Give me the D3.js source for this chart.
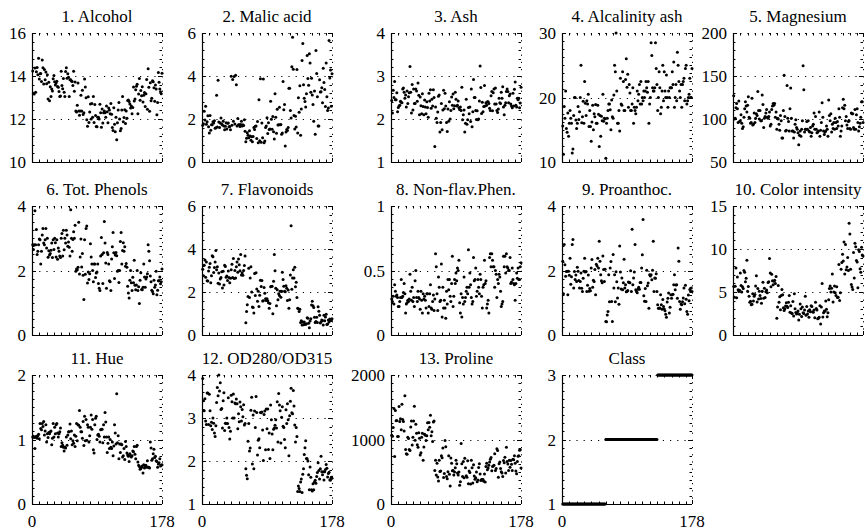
<!DOCTYPE html>
<html><head><meta charset="utf-8">
<script src="https://cdn.jsdelivr.net/npm/d3@7/dist/d3.min.js"></script>
</head><body style="margin:0;background:#fff">
<svg id="chart" width="865" height="531" style="display:block"></svg>
<script>
const alcohol = [14.23,13.2,13.16,14.37,13.24,14.2,14.39,14.06,14.83,13.86,14.1,14.12,13.75,14.75,14.38,13.63,14.3,13.83,14.19,13.64,14.06,12.93,13.71,12.85,13.5,13.05,13.39,13.3,13.87,14.02,13.73,13.58,13.68,13.76,13.51,13.48,13.28,13.05,13.07,14.22,13.56,13.41,13.88,13.24,13.05,14.21,14.38,13.9,14.1,13.94,13.05,13.83,13.82,13.77,13.74,13.56,14.22,13.29,13.72,
12.37,12.33,12.64,13.67,12.37,12.17,12.37,13.11,12.37,13.34,12.21,12.29,13.86,13.49,12.99,11.96,11.66,13.03,11.84,12.33,12.7,12,12.72,12.08,13.05,11.84,12.67,12.16,11.65,11.64,12.08,12.08,12,12.69,12.29,11.62,12.47,11.81,12.29,12.37,12.29,12.08,12.6,12.34,11.82,12.51,12.42,12.25,12.72,12.22,11.61,11.46,12.52,11.76,11.41,12.08,11.03,11.82,12.42,12.77,12,11.45,11.56,12.42,13.05,11.87,12.07,12.43,11.79,12.37,12.04,
12.86,12.88,12.81,12.7,12.51,12.6,12.25,12.53,13.49,12.84,12.93,13.36,13.52,13.62,12.25,13.16,13.88,12.87,13.32,13.08,13.5,12.79,13.11,13.23,12.58,13.17,13.84,12.45,14.34,13.48,12.36,13.69,12.85,12.96,13.78,13.73,13.45,12.82,13.58,13.4,12.2,12.77,14.16,13.71,13.4,13.27,13.17,14.13];
const malicAcid = [1.71,1.78,2.36,1.95,2.59,1.76,1.87,2.15,1.64,1.35,2.16,1.48,1.73,1.73,1.87,1.81,1.92,1.57,1.59,3.1,1.63,3.8,1.86,1.6,1.81,2.05,1.77,1.72,1.9,1.68,1.5,1.66,1.83,1.53,1.8,1.81,1.64,1.65,1.5,3.99,1.71,3.84,1.89,3.98,1.77,4.04,3.59,1.68,2.02,1.73,1.73,1.65,1.75,1.9,1.67,1.73,1.7,1.97,1.43,
0.94,1.1,1.36,1.25,1.13,1.45,1.21,1.01,1.17,0.94,1.19,1.61,1.51,1.66,1.67,1.09,1.88,0.9,2.89,0.99,3.87,0.92,1.81,1.13,3.86,0.89,0.98,1.61,1.67,2.06,1.33,1.83,1.51,1.53,2.83,1.99,1.52,2.12,1.41,1.07,3.17,2.08,1.34,2.45,1.72,1.73,2.55,1.73,1.75,1.29,1.35,3.74,2.43,2.68,0.74,1.39,1.51,1.47,1.61,3.43,3.43,2.4,2.05,4.43,5.8,4.31,2.16,1.53,2.13,1.63,4.3,
1.35,2.99,2.31,3.55,1.24,2.46,4.72,5.51,3.59,2.96,2.81,2.56,3.17,4.95,3.88,3.57,5.04,4.61,3.24,3.9,3.12,2.67,1.9,3.3,1.29,5.19,4.12,3.03,1.68,1.67,3.83,3.26,3.27,3.45,2.76,4.36,3.7,3.37,2.58,4.6,3.03,2.39,2.51,5.65,3.91,4.28,2.59,4.1];
const ash = [2.43,2.14,2.67,2.5,2.87,2.45,2.45,2.61,2.17,2.27,2.3,2.32,2.41,2.39,2.38,2.7,2.72,2.62,2.48,2.56,2.28,2.65,2.36,2.52,2.61,3.22,2.62,2.14,2.8,2.21,2.7,2.36,2.36,2.7,2.65,2.41,2.84,2.55,2.1,2.51,2.31,2.12,2.59,2.29,2.1,2.44,2.28,2.12,2.4,2.27,2.04,2.6,2.42,2.68,2.25,2.46,2.3,2.68,2.5,
1.36,2.28,2.02,1.92,2.16,2.53,2.56,1.7,1.92,2.36,1.75,2.21,2.67,2.24,2.6,2.3,1.92,1.71,2.23,1.95,2.4,2,2.2,2.51,2.32,2.58,2.24,2.31,2.62,2.46,2.3,2.32,2.42,2.26,2.22,2.28,2.2,2.74,1.98,2.1,2.21,1.7,1.9,2.46,1.88,1.98,2.27,2.12,2.28,1.94,2.7,1.82,2.17,2.92,2.5,2.5,2.2,1.99,2.19,1.98,2,2.42,3.23,2.73,2.13,2.39,2.17,2.29,2.78,2.3,2.38,
2.32,2.4,2.4,2.36,2.25,2.2,2.54,2.64,2.19,2.61,2.7,2.35,2.72,2.35,2.2,2.15,2.23,2.48,2.38,2.36,2.62,2.48,2.75,2.28,2.1,2.32,2.38,2.64,2.7,2.64,2.38,2.54,2.58,2.35,2.3,2.26,2.6,2.3,2.69,2.86,2.32,2.28,2.48,2.45,2.48,2.26,2.37,2.74];
const alcalinityAsh = [15.6,11.2,18.6,16.8,21,15.2,14.6,17.6,14,16,18,16.8,16,11.4,12,17.2,20,20,16.5,15.2,16,18.6,16.6,17.8,20,25,16.1,17,19.4,16,22.5,19.1,17.2,19.5,19,20.5,15.5,18,15.5,13.2,16.2,18.8,15,17.5,17,18.9,16,16,18.8,17.4,12.4,17.2,14,17.1,16.4,20.5,16.3,16.8,16.7,
10.6,16,16.8,18,19,19,18.1,15,19.6,17,16.8,20.4,25,24,30,21,16,16,18,14.8,23,19,18.8,24,22.5,18,18,22.8,26,21.6,23.6,18.5,22,20.7,18,18,19,21.5,16,18.5,18,17.5,18.5,21,19.5,20.5,22,19,22.5,19,20,19.5,21,20,21,22.5,21.5,20.8,22.5,16,19,20,28.5,26.5,21.5,21,21,21.5,28.5,24.5,22,
18,20,24,21.5,17.5,18.5,21,25,19.5,24,21,20,23.5,20,18.5,21,20,21.5,21.5,21.5,24,22,25.5,18.5,20,22,19.5,27,25,22.5,21,20,22,18.5,22,22.5,23,19.5,24.5,25,19,19.5,20,20.5,23,20,20,24.5];
const magnesium = [127,100,101,113,118,112,96,121,97,98,105,95,89,91,102,112,120,115,108,116,126,102,101,95,96,124,93,94,107,96,101,106,104,132,110,100,110,98,98,128,117,90,101,103,107,111,102,101,103,108,92,94,111,115,118,116,118,102,108,
88,101,100,94,87,104,98,78,78,110,151,103,86,87,139,101,97,86,112,136,101,86,86,78,85,94,99,90,88,84,70,81,86,80,88,98,162,134,85,88,88,97,88,98,86,85,90,80,84,92,94,107,88,103,88,84,85,86,108,80,87,96,119,102,86,82,85,86,92,88,80,
122,104,98,106,85,94,89,96,88,101,96,89,97,92,112,102,80,86,92,113,123,112,116,98,103,93,89,97,98,89,88,107,106,106,90,88,111,88,105,112,96,86,91,95,102,120,120,96];
const totalPhenols = [2.8,2.65,2.8,3.85,2.8,3.27,2.5,2.6,2.8,2.98,2.95,2.2,2.6,3.1,3.3,2.85,2.8,2.95,3.3,2.7,3,2.41,2.61,2.48,2.53,2.63,2.85,2.4,2.95,2.65,3,2.86,2.42,2.95,2.35,2.7,2.6,2.45,2.4,3,3.15,2.45,3.25,2.64,3,2.85,3.25,3.1,2.75,2.88,2.72,2.45,3.88,3,2.6,2.96,3.2,3,3.4,
1.98,2.05,2.02,2.1,3.5,1.89,2.42,2.98,2.11,2.53,1.85,1.1,2.95,1.88,3.3,3.38,1.61,1.95,1.72,1.9,2.83,2.42,2.2,2,1.65,2.2,2.2,1.78,1.92,1.95,2.2,1.6,1.45,1.38,2.45,3.02,2.5,1.6,2.55,3.52,2.85,2.23,1.45,2.56,2.5,2.2,1.68,1.65,1.38,2.36,2.74,3.18,2.55,1.75,2.48,2.56,2.46,1.98,2,1.63,2,2.9,3.18,2.2,2.62,2.86,2.6,2.74,2.13,2.22,2.1,
1.51,1.3,1.15,1.7,2,1.62,1.38,1.79,1.62,2.32,1.54,1.4,1.55,2,1.38,1.5,0.98,1.7,1.93,1.41,1.4,1.48,2.2,1.8,1.48,1.74,1.8,1.9,2.8,2.6,2.3,1.83,1.65,1.39,1.35,1.28,1.7,1.48,1.55,1.98,1.25,1.39,1.68,1.68,1.8,1.59,1.65,2.05];
const flavonoids = [3.06,2.76,3.24,3.49,2.69,3.39,2.52,2.51,2.98,3.15,3.32,2.43,2.76,3.69,3.64,2.91,3.14,3.4,3.93,3.03,3.17,2.41,2.88,2.37,2.61,2.68,2.94,2.19,2.97,2.33,3.25,3.19,2.69,2.74,2.53,2.98,2.68,2.43,2.64,3.04,3.29,2.68,3.56,2.63,3,2.65,3.17,3.39,2.92,3.54,3.27,2.99,3.74,2.79,2.9,2.78,3,3.23,3.67,
0.57,1.09,1.41,1.79,3.1,1.75,2.65,3.18,2,1.3,1.28,1.02,2.86,1.84,2.89,2.14,1.57,2.03,1.32,1.85,2.55,2.26,2.53,1.58,1.59,2.21,1.94,1.69,1.61,1.69,1.59,1.5,1.25,1.46,2.25,2.26,2.27,0.99,2.5,3.75,2.99,2.17,1.36,2.11,1.64,1.92,1.84,2.03,1.76,2.04,2.92,2.58,2.27,2.03,2.01,2.29,2.17,1.6,2.09,1.25,1.64,2.79,5.08,2.13,2.65,3.03,2.65,3.15,2.24,2.45,1.75,
1.25,1.22,1.09,1.2,0.58,0.66,0.47,0.6,0.48,0.6,0.5,0.5,0.52,0.8,0.78,0.55,0.34,0.65,0.76,1.39,1.57,1.36,1.28,0.83,0.58,0.63,0.83,0.58,1.31,1.1,0.92,0.56,0.6,0.7,0.68,0.47,0.92,0.66,0.84,0.96,0.49,0.51,0.7,0.61,0.75,0.69,0.68,0.76];
const nonflavPhenols = [0.28,0.26,0.3,0.24,0.39,0.34,0.3,0.31,0.29,0.22,0.22,0.26,0.29,0.43,0.29,0.3,0.33,0.4,0.32,0.17,0.24,0.25,0.27,0.26,0.28,0.47,0.34,0.27,0.37,0.26,0.29,0.22,0.42,0.5,0.29,0.26,0.34,0.29,0.28,0.2,0.34,0.27,0.17,0.32,0.28,0.3,0.27,0.21,0.32,0.32,0.17,0.22,0.32,0.39,0.21,0.2,0.26,0.31,0.19,
0.28,0.63,0.53,0.32,0.19,0.45,0.37,0.26,0.27,0.55,0.14,0.37,0.21,0.27,0.21,0.13,0.34,0.24,0.43,0.35,0.43,0.3,0.26,0.4,0.61,0.22,0.3,0.43,0.4,0.48,0.42,0.52,0.5,0.58,0.25,0.17,0.32,0.14,0.29,0.24,0.45,0.26,0.29,0.34,0.37,0.32,0.66,0.37,0.48,0.39,0.29,0.24,0.26,0.6,0.42,0.43,0.52,0.3,0.34,0.43,0.37,0.32,0.47,0.43,0.3,0.21,0.37,0.39,0.58,0.4,0.42,
0.21,0.24,0.27,0.17,0.6,0.63,0.53,0.63,0.58,0.53,0.53,0.37,0.5,0.47,0.29,0.43,0.4,0.47,0.45,0.34,0.22,0.24,0.26,0.61,0.53,0.61,0.48,0.63,0.53,0.52,0.5,0.5,0.6,0.4,0.41,0.52,0.43,0.4,0.39,0.27,0.4,0.48,0.44,0.52,0.43,0.43,0.53,0.56];
const proanthocyanins = [2.29,1.28,2.81,2.18,1.82,1.97,1.98,1.25,1.98,1.85,2.38,1.57,1.81,2.81,2.96,1.46,1.97,1.72,1.86,1.66,2.1,1.98,1.69,1.46,1.66,1.92,1.45,1.35,1.76,1.98,2.38,1.95,1.97,1.35,1.54,1.86,1.36,1.44,1.37,2.08,2.34,1.48,1.7,1.66,2.03,1.25,2.19,2.14,2.38,2.08,2.91,2.29,1.87,1.68,1.62,2.45,2.03,1.66,2.04,
0.42,0.41,0.62,0.73,1.87,1.03,2.08,2.28,1.04,0.42,2.5,1.46,1.87,1.03,1.96,1.65,1.15,1.46,0.95,2.76,1.95,1.43,1.77,1.4,1.62,2.35,1.46,1.56,1.34,1.35,1.38,1.64,1.63,1.62,1.99,1.35,3.28,1.56,1.77,1.95,2.81,1.4,1.35,1.31,1.42,1.48,1.42,1.63,1.63,2.08,2.49,3.58,1.22,1.05,1.44,1.04,2.01,1.53,1.61,0.83,1.87,1.83,1.87,1.71,2.01,2.91,1.35,1.77,1.76,1.9,1.35,
0.94,0.83,0.83,0.84,1.25,0.94,0.8,1.1,0.88,0.81,0.75,0.64,0.55,1.02,1.14,1.3,0.68,0.86,1.25,1.14,1.25,1.26,1.56,1.87,1.4,1.55,1.56,1.14,2.7,2.29,1.04,0.8,0.96,0.94,1.03,1.15,1.46,0.97,1.54,1.11,0.73,0.64,1.24,1.06,1.41,1.35,1.46,1.35];
const colorIntensity = [5.64,4.38,5.68,7.8,4.32,6.75,5.25,5.05,5.2,7.22,5.75,5,5.6,5.4,7.5,7.3,6.2,6.6,8.7,5.1,5.65,4.5,3.8,3.93,3.52,3.58,4.8,3.95,4.5,4.7,5.7,6.9,3.84,5.4,4.2,5.1,4.6,4.25,3.7,5.1,6.13,4.28,5.43,4.36,5.04,5.24,4.9,6.1,6.2,8.9,7.2,5.6,7.05,6.3,5.85,6.25,6.38,6,6.8,
1.95,3.27,5.75,3.8,4.45,2.95,4.6,5.3,4.68,3.17,2.85,3.05,3.38,3.74,3.35,3.21,3.8,4.6,2.65,3.4,2.57,2.5,3.9,2.2,4.8,3.05,2.62,2.45,2.6,2.8,1.74,2.4,3.6,3.05,2.15,3.25,2.6,2.5,2.9,4.5,2.3,3.3,2.45,2.8,2.06,2.94,2.7,3.4,3.3,2.7,2.65,2.9,2,3.8,3.08,2.9,1.9,1.95,2.06,3.4,1.28,3.25,6,2.08,2.6,2.8,2.76,3.94,3,2.12,2.6,
4.1,5.4,5.7,5,5.45,7.1,3.85,5,5.7,4.92,4.6,5.6,4.35,4.4,8.21,4,4.9,7.65,8.42,9.4,8.6,10.8,7.1,10.52,7.6,7.9,9.01,7.5,13,11.75,7.65,5.88,5.58,5.28,9.58,6.62,10.68,10.26,8.66,8.5,5.5,9.9,9.7,7.7,7.3,10.2,9.3,9.2];
const hue = [1.04,1.05,1.03,0.86,1.04,1.05,1.02,1.06,1.08,1.01,1.25,1.17,1.15,1.25,1.2,1.28,1.07,1.13,1.23,0.96,1.09,1.03,1.11,1.09,1.12,1.13,0.92,1.02,1.25,1.04,1.19,1.09,1.23,1.25,1.1,1.04,1.09,1.12,1.18,0.89,0.95,0.91,0.88,0.82,0.88,0.87,1.04,0.91,1.07,1.12,1.12,1.24,1.01,1.13,0.92,0.98,0.94,1.07,0.89,
1.05,1.25,0.98,1.23,1.22,1.45,1.19,1.12,1.12,1.02,1.28,0.906,1.36,0.98,1.31,0.99,1.23,1.19,0.96,1.06,1.19,1.38,1.16,1.31,0.84,0.79,1.23,1.33,1.36,1,1.07,1.08,1.05,0.96,1.15,1.16,1.16,0.95,1.23,1.04,1.42,1.27,1.04,0.8,0.94,1.04,0.86,1,0.88,0.86,0.96,0.75,0.9,1.23,1.1,0.93,1.71,0.95,1.06,0.7,0.93,0.8,0.93,0.92,0.73,0.75,0.86,0.69,0.97,0.89,0.79,
0.76,0.74,0.66,0.78,0.75,0.73,0.75,0.82,0.81,0.89,0.77,0.7,0.89,0.91,0.65,0.6,0.58,0.54,0.55,0.57,0.59,0.48,0.61,0.56,0.58,0.6,0.57,0.67,0.57,0.57,0.56,0.96,0.87,0.68,0.7,0.78,0.85,0.72,0.74,0.67,0.66,0.57,0.62,0.64,0.7,0.59,0.6,0.61];
const od280od315 = [3.92,3.4,3.17,3.45,2.93,2.85,3.58,3.58,2.85,3.55,3.17,2.82,2.9,2.73,3,2.88,2.65,2.57,2.82,3.36,3.71,3.52,4,3.63,3.82,3.2,3.22,2.77,3.4,3.59,2.71,2.88,2.87,3,2.87,3.47,2.78,2.51,2.69,3.53,3.38,3,3.56,3,3.35,3.33,3.44,3.33,2.75,3.1,2.91,3.37,3.26,2.93,3.2,3.03,3.31,2.84,2.87,
1.82,1.67,1.59,2.46,2.87,2.23,2.3,3.18,3.48,1.93,3.07,1.82,3.16,2.78,3.5,3.13,2.14,2.48,2.52,2.31,3.13,3.12,3.14,2.72,2.01,3.08,3.16,2.26,3.21,2.75,3.21,2.27,2.65,2.06,3.3,2.96,2.63,2.26,2.74,2.77,2.83,2.96,2.77,3.38,2.44,3.57,3.3,3.17,2.42,3.02,3.26,2.81,2.78,2.5,2.31,3.19,2.87,3.33,2.96,2.12,3.05,3.39,3.69,3.12,3.1,3.64,3.28,2.84,2.44,2.78,2.57,
1.29,1.42,1.36,1.29,1.51,1.58,1.27,1.69,1.82,2.15,2.31,2.47,2.06,2.05,2,1.68,1.33,1.86,1.62,1.33,1.3,1.47,1.33,1.51,1.55,1.48,1.64,1.73,1.96,1.78,1.58,1.82,2.11,1.75,1.68,1.75,1.56,1.75,1.8,1.92,1.83,1.63,1.71,1.74,1.56,1.56,1.62,1.6];
const proline = [1065,1050,1185,1480,735,1450,1290,1295,1045,1045,1510,1280,1320,1150,1547,1310,1280,1130,1680,845,780,770,1035,1015,845,830,1195,1285,915,1035,1285,1515,990,1235,1095,920,880,1105,1020,760,795,1035,1095,680,885,1080,1065,985,1060,1260,1150,1265,1190,1375,1060,1120,970,1270,1285,
520,680,450,630,420,355,678,502,510,750,718,870,410,472,985,886,428,392,500,750,463,278,714,630,515,520,450,495,562,680,625,480,450,495,290,345,937,625,428,660,406,710,562,438,415,672,315,510,488,312,680,562,325,607,434,385,407,495,345,372,564,625,465,365,380,380,378,352,466,342,580,
630,530,560,600,650,695,720,515,580,590,600,780,520,550,855,830,415,625,650,550,500,480,425,675,640,725,480,880,660,620,520,680,570,675,615,520,695,685,750,630,510,470,660,740,750,835,840,560];
const wineClass = [1,1,1,1,1,1,1,1,1,1, 1,1,1,1,1,1,1,1,1,1, 1,1,1,1,1,1,1,1,1,1, 1,1,1,1,1,1,1,1,1,1, 1,1,1,1,1,1,1,1,1,1, 1,1,1,1,1,1,1,1,1,
2,2,2,2,2,2,2,2,2,2, 2,2,2,2,2,2,2,2,2,2, 2,2,2,2,2,2,2,2,2,2, 2,2,2,2,2,2,2,2,2,2, 2,2,2,2,2,2,2,2,2,2, 2,2,2,2,2,2,2,2,2,2, 2,2,2,2,2,2,2,2,2,2, 2,
3,3,3,3,3,3,3,3,3,3, 3,3,3,3,3,3,3,3,3,3, 3,3,3,3,3,3,3,3,3,3, 3,3,3,3,3,3,3,3,3,3, 3,3,3,3,3,3,3,3];

const panelTitles = ["1. Alcohol","2. Malic acid","3. Ash","4. Alcalinity ash","5. Magnesium",
  "6. Tot. Phenols","7. Flavonoids","8. Non-flav.Phen.","9. Proanthoc.","10. Color intensity",
  "11. Hue","12. OD280/OD315","13. Proline","Class"];
const yTickValues = [[10,12,14,16],[0,2,4,6],[1,2,3,4],[10,20,30],[50,100,150,200],
  [0,2,4],[0,2,4,6],[0,0.5,1],[0,2,4],[0,5,10,15],
  [0,1,2],[1,2,3,4],[0,1000,2000],[1,2,3]];
const xTickLabels = [0,178];
const seriesList = [alcohol,malicAcid,ash,alcalinityAsh,magnesium,totalPhenols,flavonoids,
  nonflavPhenols,proanthocyanins,colorIntensity,hue,od280od315,proline,wineClass];

const colLeft = [32,202,391,562,733];
const rowTop = [33,206,375];
const W = 130, H = 129;
const svg = d3.select("#chart");

const x = d3.scaleLinear().domain([0,178]).range([0,W]);
const xMinor = d3.range(0,178,10).concat([178]);

const labels = [];
seriesList.forEach((vals, k) => {
  const col = k % 5, row = Math.floor(k / 5);
  const ox = colLeft[col], oy = rowTop[row];
  const g = svg.append("g").attr("transform", `translate(${ox},${oy})`);
  const ticks = yTickValues[k];
  const y0 = ticks[0], y1 = ticks[ticks.length-1];
  const y = d3.scaleLinear().domain([y0,y1]).range([H,0]);
  const nInt = ticks.length - 1;
  const per = nInt === 2 ? 8 : 5;
  const step = (y1 - y0) / (nInt * per);
  const yMinor = d3.range(0, nInt*per + 1).map(i => y0 + i*step);

  ticks.slice(1).forEach(t => {
    g.append("line").attr("x1",0).attr("x2",W)
      .attr("y1",Math.round(y(t))+0.5).attr("y2",Math.round(y(t))+0.5)
      .attr("stroke","#000").attr("stroke-width",1).attr("stroke-dasharray","1.2,6");
  });
  g.append("line").attr("x1",Math.round(x(178))+0.5).attr("x2",Math.round(x(178))+0.5)
    .attr("y1",0).attr("y2",H)
    .attr("stroke","#000").attr("stroke-width",1).attr("stroke-dasharray","1.2,6");

  yMinor.forEach(t => {
    const yy = Math.round(y(t))+0.5;
    const isMajor = ticks.some(m => Math.abs(m - t) < 1e-9);
    const len = isMajor ? 4 : 2.5;
    g.append("line").attr("x1",0).attr("x2",len).attr("y1",yy).attr("y2",yy).attr("stroke","#000");
    g.append("line").attr("x1",W-len).attr("x2",W).attr("y1",yy).attr("y2",yy).attr("stroke","#000");
  });
  xMinor.forEach(t => {
    const xx = Math.round(x(t))+0.5;
    const len = (t===0||t===178) ? 4 : 2.5;
    g.append("line").attr("x1",xx).attr("x2",xx).attr("y1",H-len).attr("y2",H).attr("stroke","#000");
    g.append("line").attr("x1",xx).attr("x2",xx).attr("y1",0).attr("y2",len).attr("stroke","#000");
  });

  g.append("line").attr("x1",0.5).attr("x2",0.5).attr("y1",0).attr("y2",H+0.5).attr("stroke","#000").attr("stroke-width",1.2);
  g.append("line").attr("x1",0).attr("x2",W).attr("y1",H+0.5).attr("y2",H+0.5).attr("stroke","#000").attr("stroke-width",1.2);

  ticks.forEach(t => labels.push({x: ox-6, y: oy+y(t)+6, t: String(t), a: "end"}));
  if (row === 2) xTickLabels.forEach(t => labels.push({x: ox+x(t), y: oy+H+23, t: String(t), a: "middle"}));
  labels.push({x: ox+W/2, y: oy-11, t: panelTitles[k], a: "middle"});

  g.selectAll("circle.pt").data(vals).enter().append("circle")
    .attr("class","pt")
    .attr("cx",(d,i)=>x(i+1)).attr("cy",d=>y(d)).attr("r",1.5).attr("fill","#000");
});

svg.selectAll("text.lbl").data(labels).enter().append("text")
  .attr("class","lbl")
  .attr("x",d=>d.x).attr("y",d=>d.y)
  .style("font-family",'"Liberation Serif"').style("font-size","17px")
  .attr("text-anchor",d=>d.a)
  .text(d=>d.t);
</script>
</body></html>
